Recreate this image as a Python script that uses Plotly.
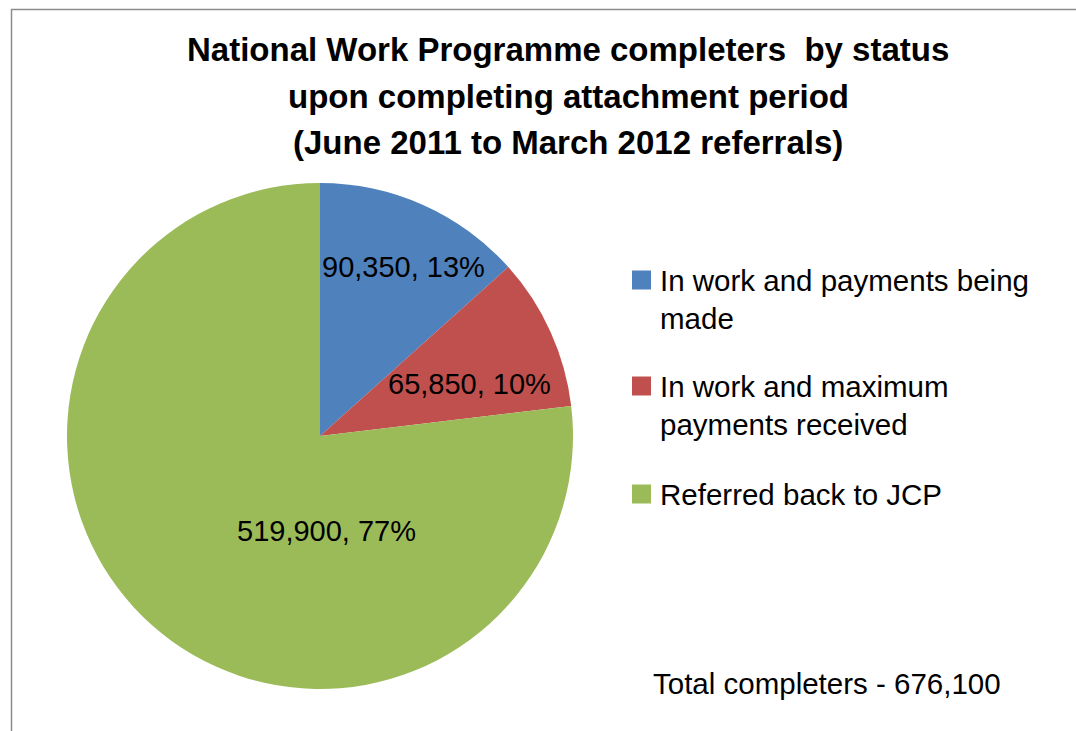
import plotly.graph_objects as go

# Work Programme completers by status
categories = [
    "In work and payments being made",
    "In work and maximum payments received",
    "Referred back to JCP",
]
legend_lines = [
    ["In work and payments being", "made"],
    ["In work and maximum", "payments received"],
    ["Referred back to JCP"],
]
completers = [90350, 65850, 519900]
colours = ["#4F81BD", "#C0504D", "#9BBB59"]
title_lines = [
    "National Work Programme completers  by status",
    "upon completing attachment period",
    "(June 2011 to March 2012 referrals)",
]

W, H = 1076, 731
FONT = "Liberation Sans, Arial, sans-serif"
total = sum(completers)


def px(x):
    return x / W


def py(y):
    return 1 - y / H


fig = go.Figure()
fig.add_trace(go.Pie(
    labels=categories,
    values=completers,
    marker=dict(colors=colours, line=dict(width=0)),
    sort=False,
    direction="clockwise",
    rotation=0,
    textinfo="none",
    hoverinfo="label+value+percent",
    showlegend=False,
    domain=dict(x=[px(67), px(573)], y=[py(689), py(183)]),
))

annotations = []

# Title, one annotation per line
for i, line in enumerate(title_lines):
    annotations.append(dict(
        text=f"<b>{line}</b>", x=px(568), y=py(50 + 46.5 * i),
        xref="paper", yref="paper", xanchor="center", yanchor="middle",
        showarrow=False, font=dict(family=FONT, size=33, color="#000000"),
    ))

# Slice labels: value and rounded share
label_pos = [(403, 267), (469, 384), (326, 531)]
for v, (lx, ly) in zip(completers, label_pos):
    annotations.append(dict(
        text=f"{v:,}, {round(100 * v / total)}%", x=px(lx), y=py(ly),
        xref="paper", yref="paper", xanchor="center", yanchor="middle",
        showarrow=False, font=dict(family=FONT, size=29, color="#000000"),
    ))

# Legend
shapes = []
entry_tops = [280, 386, 494]
for lines, col, ty in zip(legend_lines, colours, entry_tops):
    shapes.append(dict(
        type="rect", xref="paper", yref="paper",
        x0=px(632), x1=px(651), y0=py(ty + 9.5), y1=py(ty - 9.5),
        fillcolor=col, line=dict(width=0),
    ))
    for j, t in enumerate(lines):
        annotations.append(dict(
            text=t, x=px(658), y=py(ty + 38 * j),
            xref="paper", yref="paper", xanchor="left", yanchor="middle",
            showarrow=False, font=dict(family=FONT, size=29.5, color="#000000"),
        ))

annotations.append(dict(
    text=f"Total completers - {total:,}", x=px(651), y=py(683),
    xref="paper", yref="paper", xanchor="left", yanchor="middle",
    showarrow=False, font=dict(family=FONT, size=29.5, color="#000000"),
))

# Chart area border
shapes.append(dict(
    type="rect", xref="paper", yref="paper",
    x0=px(11.5), y0=py(9.5), x1=1.02, y1=-0.02,
    line=dict(color="#8C8C8C", width=1.5), fillcolor="rgba(0,0,0,0)",
))

fig.update_layout(
    width=W, height=H,
    margin=dict(l=0, r=0, t=0, b=0),
    paper_bgcolor="#FFFFFF",
    plot_bgcolor="#FFFFFF",
    annotations=annotations,
    shapes=shapes,
    showlegend=False,
)

fig.write_html("out.html")
